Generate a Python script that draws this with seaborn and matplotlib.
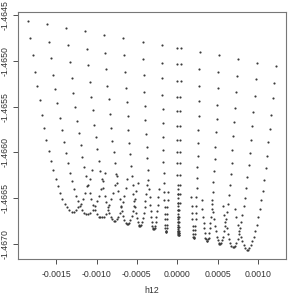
import matplotlib
matplotlib.use("Agg")
import matplotlib.pyplot as plt
import pandas as pd
import seaborn as sns

h12_c01 = [-0.001847, -0.001819, -0.001791, -0.001763, -0.001734, -0.001706, -0.001678, -0.001649, -0.001621, -0.001593,
           -0.001564, -0.001536, -0.001508, -0.001480, -0.001451, -0.001423, -0.001395, -0.001366, -0.001338, -0.001310,
           -0.001282, -0.001253, -0.001225, -0.001197, -0.001168, -0.001140, -0.001112, -0.001084, -0.001055]
val_c01 = [-1.46457, -1.46475, -1.46494, -1.46512, -1.46528, -1.46543, -1.46559, -1.46573, -1.46586, -1.46598,
           -1.46609, -1.46619, -1.46629, -1.46637, -1.46644, -1.46651, -1.46656, -1.46660, -1.46663, -1.46665,
           -1.46665, -1.46663, -1.46660, -1.46656, -1.46651, -1.46644, -1.46637, -1.46629, -1.46619]

h12_c02 = [-0.001612, -0.001586, -0.001561, -0.001535, -0.001509, -0.001484, -0.001458, -0.001433, -0.001407, -0.001382,
           -0.001356, -0.001331, -0.001305, -0.001279, -0.001254, -0.001228, -0.001203, -0.001177, -0.001152, -0.001126,
           -0.001101, -0.001075, -0.001049, -0.001024, -0.000998, -0.000973, -0.000947, -0.000922, -0.000896]
val_c02 = [-1.46460, -1.46479, -1.46497, -1.46515, -1.46531, -1.46546, -1.46562, -1.46576, -1.46589, -1.46601,
           -1.46612, -1.46622, -1.46631, -1.46640, -1.46647, -1.46653, -1.46659, -1.46663, -1.46666, -1.46667,
           -1.46667, -1.46666, -1.46663, -1.46659, -1.46653, -1.46647, -1.46640, -1.46631, -1.46622]

h12_c03 = [-0.001376, -0.001354, -0.001331, -0.001309, -0.001287, -0.001264, -0.001242, -0.001220, -0.001197, -0.001175,
           -0.001153, -0.001130, -0.001108, -0.001086, -0.001063, -0.001041, -0.001019, -0.000996, -0.000974, -0.000952,
           -0.000929, -0.000907, -0.000885, -0.000862, -0.000840, -0.000818, -0.000795, -0.000773, -0.000751]
val_c03 = [-1.46464, -1.46483, -1.46501, -1.46519, -1.46535, -1.46550, -1.46566, -1.46579, -1.46592, -1.46605,
           -1.46616, -1.46626, -1.46635, -1.46644, -1.46651, -1.46657, -1.46663, -1.46667, -1.46670, -1.46671,
           -1.46671, -1.46670, -1.46667, -1.46663, -1.46657, -1.46651, -1.46644, -1.46635, -1.46626]

h12_c04 = [-0.001140, -0.001122, -0.001103, -0.001084, -0.001066, -0.001047, -0.001029, -0.001010, -0.000991, -0.000973,
           -0.000954, -0.000935, -0.000917, -0.000898, -0.000880, -0.000861, -0.000842, -0.000824, -0.000805, -0.000787,
           -0.000768, -0.000749, -0.000731, -0.000712, -0.000694, -0.000675, -0.000656, -0.000638, -0.000619]
val_c04 = [-1.46468, -1.46487, -1.46505, -1.46523, -1.46539, -1.46554, -1.46570, -1.46583, -1.46596, -1.46609,
           -1.46620, -1.46629, -1.46639, -1.46647, -1.46654, -1.46660, -1.46666, -1.46670, -1.46673, -1.46675,
           -1.46675, -1.46673, -1.46670, -1.46666, -1.46660, -1.46654, -1.46647, -1.46639, -1.46629]

h12_c05 = [-0.000908, -0.000893, -0.000878, -0.000864, -0.000849, -0.000834, -0.000819, -0.000804, -0.000789, -0.000774,
           -0.000759, -0.000744, -0.000730, -0.000715, -0.000700, -0.000685, -0.000670, -0.000655, -0.000640, -0.000625,
           -0.000610, -0.000595, -0.000581, -0.000566, -0.000551, -0.000536, -0.000521, -0.000506, -0.000491]
val_c05 = [-1.46472, -1.46491, -1.46509, -1.46527, -1.46542, -1.46558, -1.46573, -1.46587, -1.46600, -1.46612,
           -1.46623, -1.46633, -1.46642, -1.46651, -1.46658, -1.46664, -1.46669, -1.46674, -1.46677, -1.46678,
           -1.46678, -1.46677, -1.46674, -1.46669, -1.46664, -1.46658, -1.46651, -1.46642, -1.46633]

h12_c06 = [-0.000669, -0.000658, -0.000648, -0.000637, -0.000627, -0.000616, -0.000605, -0.000595, -0.000584, -0.000574,
           -0.000563, -0.000553, -0.000542, -0.000532, -0.000521, -0.000510, -0.000500, -0.000489, -0.000479, -0.000468,
           -0.000458, -0.000447, -0.000437, -0.000426, -0.000416, -0.000405, -0.000394, -0.000384, -0.000373]
val_c06 = [-1.46475, -1.46494, -1.46512, -1.46530, -1.46545, -1.46560, -1.46576, -1.46590, -1.46602, -1.46615,
           -1.46626, -1.46635, -1.46645, -1.46653, -1.46660, -1.46666, -1.46672, -1.46676, -1.46679, -1.46680,
           -1.46680, -1.46679, -1.46676, -1.46672, -1.46666, -1.46660, -1.46653, -1.46645, -1.46635]

h12_c07 = [-0.000428, -0.000421, -0.000414, -0.000407, -0.000400, -0.000393, -0.000386, -0.000379, -0.000371, -0.000364,
           -0.000357, -0.000350, -0.000343, -0.000336, -0.000329, -0.000322, -0.000315, -0.000308, -0.000301, -0.000294,
           -0.000287, -0.000280, -0.000272, -0.000265, -0.000258, -0.000251, -0.000244, -0.000237, -0.000230]
val_c07 = [-1.46479, -1.46498, -1.46516, -1.46534, -1.46549, -1.46565, -1.46580, -1.46594, -1.46606, -1.46619,
           -1.46630, -1.46640, -1.46649, -1.46657, -1.46664, -1.46670, -1.46676, -1.46680, -1.46683, -1.46684,
           -1.46684, -1.46683, -1.46680, -1.46676, -1.46670, -1.46664, -1.46657, -1.46649, -1.46640]

h12_c08 = [-0.000192, -0.000190, -0.000187, -0.000184, -0.000181, -0.000179, -0.000176, -0.000173, -0.000170, -0.000168,
           -0.000165, -0.000162, -0.000160, -0.000157, -0.000154, -0.000151, -0.000149, -0.000146, -0.000143, -0.000140,
           -0.000138, -0.000135, -0.000132, -0.000129, -0.000127, -0.000124, -0.000121, -0.000119, -0.000116]
val_c08 = [-1.46483, -1.46502, -1.46519, -1.46537, -1.46553, -1.46568, -1.46583, -1.46597, -1.46610, -1.46622,
           -1.46633, -1.46643, -1.46652, -1.46660, -1.46667, -1.46673, -1.46679, -1.46683, -1.46686, -1.46687,
           -1.46687, -1.46686, -1.46683, -1.46679, -1.46673, -1.46667, -1.46660, -1.46652, -1.46643]

h12_c09a = [-0.000002, -0.000002, -0.000001, -0.000001, 0.000000, 0.000001, 0.000001, 0.000002, 0.000002, 0.000003,
            0.000004, 0.000004, 0.000005, 0.000006, 0.000006, 0.000007, 0.000007, 0.000008, 0.000009, 0.000009,
            0.000010, 0.000011, 0.000011, 0.000012, 0.000012, 0.000013, 0.000014, 0.000014, 0.000015]
val_c09a = [-1.46486, -1.46504, -1.46522, -1.46540, -1.46555, -1.46571, -1.46586, -1.46600, -1.46612, -1.46625,
            -1.46636, -1.46645, -1.46655, -1.46663, -1.46670, -1.46676, -1.46681, -1.46686, -1.46688, -1.46690,
            -1.46689, -1.46687, -1.46684, -1.46679, -1.46673, -1.46667, -1.46659, -1.46650, -1.46640]

h12_c09b = [0.000043, 0.000042, 0.000041, 0.000040, 0.000038, 0.000037, 0.000036, 0.000035, 0.000033, 0.000032,
            0.000031, 0.000030, 0.000029, 0.000027, 0.000026, 0.000025, 0.000024, 0.000022, 0.000021, 0.000020,
            0.000019, 0.000017, 0.000016, 0.000015, 0.000014, 0.000012, 0.000011, 0.000010, 0.000009]
val_c09b = [-1.46486, -1.46504, -1.46522, -1.46540, -1.46555, -1.46571, -1.46586, -1.46600, -1.46612, -1.46625,
            -1.46636, -1.46645, -1.46655, -1.46663, -1.46670, -1.46676, -1.46681, -1.46686, -1.46688, -1.46690,
            -1.46690, -1.46688, -1.46686, -1.46681, -1.46676, -1.46670, -1.46663, -1.46655, -1.46645]

h12_c10 = [0.000279, 0.000275, 0.000272, 0.000268, 0.000264, 0.000261, 0.000257, 0.000253, 0.000249, 0.000246,
           0.000242, 0.000238, 0.000235, 0.000231, 0.000227, 0.000223, 0.000220, 0.000216, 0.000212, 0.000209,
           0.000205, 0.000201, 0.000197, 0.000194, 0.000190, 0.000186, 0.000182, 0.000179, 0.000175]
val_c10 = [-1.46490, -1.46509, -1.46527, -1.46544, -1.46560, -1.46575, -1.46590, -1.46604, -1.46616, -1.46628,
           -1.46639, -1.46649, -1.46658, -1.46666, -1.46673, -1.46680, -1.46685, -1.46689, -1.46692, -1.46693,
           -1.46693, -1.46692, -1.46689, -1.46685, -1.46680, -1.46673, -1.46666, -1.46658, -1.46649]

h12_c11 = [0.000519, 0.000511, 0.000503, 0.000496, 0.000488, 0.000480, 0.000472, 0.000465, 0.000457, 0.000449,
           0.000442, 0.000434, 0.000426, 0.000419, 0.000411, 0.000403, 0.000396, 0.000388, 0.000380, 0.000373,
           0.000365, 0.000357, 0.000349, 0.000342, 0.000334, 0.000326, 0.000319, 0.000311, 0.000303]
val_c11 = [-1.46494, -1.46512, -1.46530, -1.46548, -1.46563, -1.46578, -1.46594, -1.46607, -1.46620, -1.46632,
           -1.46643, -1.46652, -1.46662, -1.46670, -1.46677, -1.46683, -1.46688, -1.46693, -1.46695, -1.46697,
           -1.46697, -1.46695, -1.46693, -1.46688, -1.46683, -1.46677, -1.46670, -1.46662, -1.46652]

h12_c12 = [0.000754, 0.000743, 0.000731, 0.000720, 0.000708, 0.000697, 0.000685, 0.000674, 0.000662, 0.000650,
           0.000639, 0.000627, 0.000616, 0.000604, 0.000593, 0.000581, 0.000570, 0.000558, 0.000547, 0.000535,
           0.000524, 0.000512, 0.000500, 0.000489, 0.000477, 0.000466, 0.000454, 0.000443, 0.000431]
val_c12 = [-1.46498, -1.46517, -1.46534, -1.46552, -1.46567, -1.46582, -1.46597, -1.46611, -1.46624, -1.46636,
           -1.46646, -1.46656, -1.46665, -1.46673, -1.46680, -1.46686, -1.46692, -1.46696, -1.46699, -1.46700,
           -1.46700, -1.46699, -1.46696, -1.46692, -1.46686, -1.46680, -1.46673, -1.46665, -1.46656]

h12_c13 = [0.000990, 0.000975, 0.000960, 0.000945, 0.000930, 0.000914, 0.000899, 0.000884, 0.000869, 0.000854,
           0.000839, 0.000824, 0.000808, 0.000793, 0.000778, 0.000763, 0.000748, 0.000733, 0.000718, 0.000702,
           0.000687, 0.000672, 0.000657, 0.000642, 0.000627, 0.000612, 0.000596, 0.000581, 0.000566]
val_c13 = [-1.46502, -1.46520, -1.46538, -1.46556, -1.46571, -1.46586, -1.46601, -1.46614, -1.46627, -1.46639,
           -1.46650, -1.46659, -1.46668, -1.46676, -1.46683, -1.46689, -1.46695, -1.46699, -1.46702, -1.46703,
           -1.46703, -1.46702, -1.46699, -1.46695, -1.46689, -1.46683, -1.46676, -1.46668, -1.46659]

h12_c14 = [0.001222, 0.001204, 0.001186, 0.001168, 0.001150, 0.001131, 0.001113, 0.001095, 0.001077, 0.001059,
           0.001041, 0.001023, 0.001005, 0.000987, 0.000969, 0.000950, 0.000932, 0.000914, 0.000896, 0.000878,
           0.000860, 0.000842, 0.000824, 0.000806, 0.000787, 0.000769, 0.000751, 0.000733, 0.000715]
val_c14 = [-1.46506, -1.46524, -1.46541, -1.46559, -1.46574, -1.46589, -1.46604, -1.46617, -1.46630, -1.46642,
           -1.46652, -1.46662, -1.46671, -1.46679, -1.46686, -1.46692, -1.46697, -1.46701, -1.46704, -1.46706,
           -1.46706, -1.46704, -1.46701, -1.46697, -1.46692, -1.46686, -1.46679, -1.46671, -1.46662]

x_ticks = [-0.0015, -0.0010, -0.0005, 0.0, 0.0005, 0.0010]
x_tick_labels = ["-0.0015", "-0.0010", "-0.0005", "0.0000", "0.0005", "0.0010"]
y_ticks = [-1.4670, -1.4665, -1.4660, -1.4655, -1.4650, -1.4645]
y_tick_labels = ["-1.4670", "-1.4665", "-1.4660", "-1.4655", "-1.4650", "-1.4645"]

curves = [
    (h12_c01, val_c01), (h12_c02, val_c02), (h12_c03, val_c03), (h12_c04, val_c04),
    (h12_c05, val_c05), (h12_c06, val_c06), (h12_c07, val_c07), (h12_c08, val_c08),
    (h12_c09a, val_c09a), (h12_c09b, val_c09b), (h12_c10, val_c10), (h12_c11, val_c11),
    (h12_c12, val_c12), (h12_c13, val_c13), (h12_c14, val_c14),
]
df = pd.concat(
    [pd.DataFrame({"h12": xs, "value": ys, "curve": k}) for k, (xs, ys) in enumerate(curves)],
    ignore_index=True,
)

sns.set_theme(style="white")
plt.rcParams["font.family"] = ["Liberation Sans", "DejaVu Sans"]

fig = plt.figure(figsize=(2.88, 2.97), dpi=100)
ax = fig.add_axes([0.0635, 0.129, 0.9285, 0.8296])
sns.scatterplot(data=df, x="h12", y="value", color="#3a3a3a", s=2.4,
                linewidth=0, legend=False, ax=ax)
ax.margins(x=0.04, y=0.04)

ax.set_xticks(x_ticks)
ax.set_xticklabels(x_tick_labels)
ax.set_yticks(y_ticks)
ax.set_yticklabels(y_tick_labels, rotation=90, va="center")
ax.tick_params(axis="both", bottom=True, left=True, direction="out", length=3.3,
               width=0.6, color="#333333", labelsize=6.3, labelcolor="#333333")
ax.tick_params(axis="x", pad=4.5)
ax.tick_params(axis="y", pad=3)
for side in ax.spines.values():
    side.set_color("#777777")
    side.set_linewidth(0.8)

ax.set_xlabel("h12", fontsize=6.3, color="#333333", labelpad=5.5)
ax.set_ylabel("")

fig.savefig("out.png", dpi=100)
plt.close(fig)
